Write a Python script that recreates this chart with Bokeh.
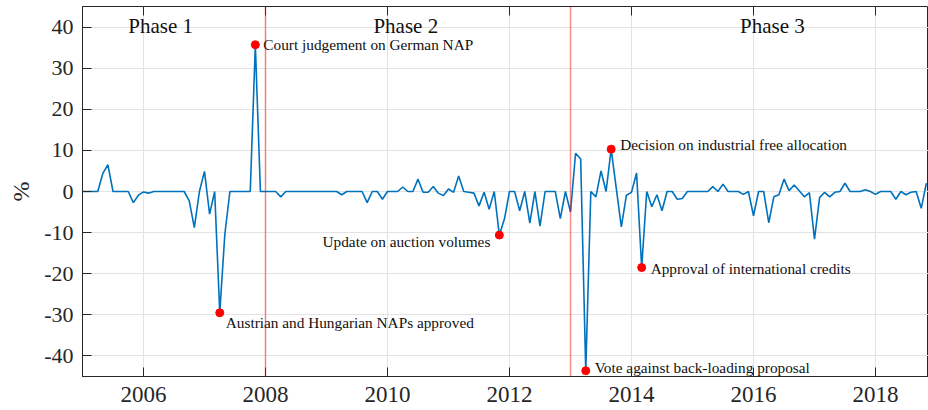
import numpy as np
from bokeh.plotting import figure
from bokeh.models import FixedTicker, Span, ColumnDataSource, LinearAxis
from bokeh.core.properties import value
from bokeh.embed import file_html
from bokeh.resources import INLINE

# Monthly series, Jan 2005 .. Nov 2018 (percent)
returns = [
    0, 0, 0, 0, 4.4, 6.5, 0, 0, 0, 0, -2.7, -0.9,                # 2005
    -0.1, -0.4, 0, 0, 0, 0, 0, 0, 0, -2.3, -8.8, 0,               # 2006
    4.9, -5.5, 0, -29.5, -10.4, 0, 0, 0, 0, 0, 35.7, 0,           # 2007
    0, 0, 0, -1.3, 0, 0, 0, 0, 0, 0, 0, 0,                        # 2008
    0, 0, 0, -0.8, 0, 0, 0, 0, -2.7, 0, 0, -1.9,                  # 2009
    0, 0, 0, 1.1, 0, 0, 3.0, -0.2, -0.2, 1.2, -0.4, -1.0,         # 2010
    0.6, -0.2, 3.8, 0, -0.2, -0.4, -3.5, -0.2, -4.3, 0, -10.6, -6.7,  # 2011
    0, 0, -4.7, 0, -7.7, 0, -8.4, 0, 0, 0, -6.6, 0,               # 2012
    -5.0, 9.3, 7.9, -43.6, 0, -1.3, 5.0, 0, 10.3, 0.8, -8.6, -0.9,  # 2013
    -0.2, 4.5, -18.5, 0, -3.7, -0.8, -4.7, 0, 0, -1.9, -1.7, 0,   # 2014
    0, 0, 0, 0, 1.2, 0, 1.8, 0, 0, 0, -0.7, 0,                    # 2015
    -5.9, 0, 0, -7.6, -1.3, -0.8, 3.0, 0.2, 1.6, 0.2, -1.3, -0.3, # 2016
    -11.6, -1.5, -0.2, -1.3, -0.2, 0, 2.0, 0, 0, 0, 0.4, 0,       # 2017
    -0.7, 0, 0, 0, -1.9, 0, -0.8, -0.2, 0, -4.1, 2.0,             # 2018
]
start_year = 2005
dates = [start_year + i / 12 for i in range(len(returns))]

# Phase boundaries and labels
phase_breaks = [2008, 2013]
phase_names = ["Phase 1", "Phase 2", "Phase 3"]
phase_x = [2006.28, 2010.30, 2016.31]
phase_y = [40.2, 40.2, 40.2]

# Events: month index in series, label
event_idx = [34, 27, 82, 104, 110, 99]
event_labels = [
    "Court judgement on German NAP",
    "Austrian and Hungarian NAPs approved",
    "Update on auction volumes",
    "Decision on industrial free allocation",
    "Approval of international credits",
    "Vote against back-loading proposal",
]

x_ticks = [2006, 2008, 2010, 2012, 2014, 2016, 2018]
y_ticks = [-40, -30, -20, -10, 0, 10, 20, 30, 40]

FONT = "Liberation Serif"
DARK = "#262626"

p = figure(width=928, height=410, output_backend="svg", toolbar_location=None,
           x_range=(2005, 2005 + 846 / 61), y_range=(-45, 45),
           min_border_left=82, min_border_right=0, min_border_top=6, min_border_bottom=34)
p.background_fill_color = "white"
p.border_fill_color = "white"
p.outline_line_color = DARK
p.outline_line_width = 1

for ax in (p.xaxis[0], p.yaxis[0]):
    ax.major_tick_in = 9
    ax.major_tick_out = 0
    ax.minor_tick_in = 0
    ax.minor_tick_out = 0
    ax.axis_line_color = DARK
    ax.major_tick_line_color = DARK
    ax.major_label_text_font = FONT
    ax.major_label_text_color = DARK

p.xaxis.major_label_text_font_size = "23px"
p.yaxis.major_label_text_font_size = "22px"
p.xaxis.ticker = FixedTicker(ticks=x_ticks)
p.yaxis.ticker = FixedTicker(ticks=y_ticks)
p.yaxis.major_label_overrides = {t: str(t) for t in y_ticks}
p.xaxis.major_label_standoff = 10
p.yaxis.major_label_standoff = 9
p.yaxis.axis_label = "%"
p.yaxis.axis_label_text_font = FONT
p.yaxis.axis_label_text_font_size = "24px"
p.yaxis.axis_label_text_font_style = "normal"
p.yaxis.axis_label_text_color = DARK
p.yaxis.axis_label_standoff = 7

top = LinearAxis(ticker=FixedTicker(ticks=x_ticks), major_tick_in=9, major_tick_out=0,
                 minor_tick_in=0, minor_tick_out=0, axis_line_color=None,
                 major_tick_line_color=DARK, major_label_text_font_size="0px",
                 major_label_standoff=0)
top.major_label_overrides = {t: "" for t in x_ticks}
p.add_layout(top, "above")

p.xgrid.grid_line_color = "#e3e3e3"
p.ygrid.grid_line_color = "#e3e3e3"
p.xgrid.ticker = FixedTicker(ticks=x_ticks)
p.ygrid.ticker = FixedTicker(ticks=y_ticks)

src = ColumnDataSource(dict(x=dates, y=returns))
p.line("x", "y", source=src, line_color="#0072BD", line_width=1.6)

for b in phase_breaks:
    p.add_layout(Span(location=b, dimension="height", line_color="#ff0000",
                      line_alpha=0.45, line_width=1.5))

p.text(x=phase_x, y=phase_y, text=phase_names, text_font=value(FONT),
       text_font_size="21px", text_align="center", text_baseline="middle",
       text_color="#111111")

ex = [dates[i] for i in event_idx]
ey = [returns[i] for i in event_idx]
p.scatter(ex, ey, size=8, fill_color="#ff0000", line_color="#ff0000")

aligns = ["left", "left", "right", "left", "left", "left"]
xoffs = [8, 6, -9, 9, 9, 9]
yoffs = [0, 10, 6, -5, 1, -3]
esrc = ColumnDataSource(dict(x=ex, y=ey, t=event_labels, a=aligns, xo=xoffs, yo=yoffs))
p.text("x", "y", text="t", source=esrc, text_align="a", x_offset="xo", y_offset="yo",
       text_font=value(FONT), text_font_size="15.3px", text_baseline="middle",
       text_color="#111111")

open("out.html", "w").write(file_html(p, INLINE))
